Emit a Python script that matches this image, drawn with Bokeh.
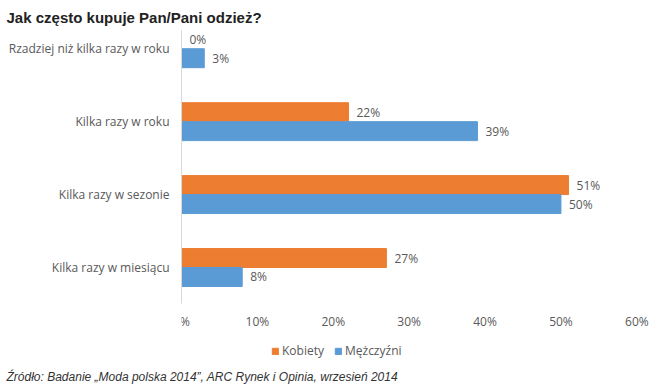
from bokeh.plotting import figure
from bokeh.models import (ColumnDataSource, Range1d, FixedTicker, Legend, LegendItem, Title)
from bokeh.transform import dodge
from bokeh.core.properties import value
from bokeh.embed import file_html
from bokeh.resources import INLINE

# ---- data ----
title_text = "Jak często kupuje Pan/Pani odzież?"
source_text = "Źródło: Badanie „Moda polska 2014”, ARC Rynek i Opinia, wrzesień 2014"
categories = ["Rzadziej niż kilka razy w roku", "Kilka razy w roku",
              "Kilka razy w sezonie", "Kilka razy w miesiącu"]
series_names = ["Kobiety", "Mężczyźni"]
kobiety = [0, 22, 51, 27]
mezczyzni = [3, 39, 50, 8]
x_ticks = [0, 10, 20, 30, 40, 50, 60]
x_tick_labels = ["0%", "10%", "20%", "30%", "40%", "50%", "60%"]
colors = ["#ED7D31", "#5B9BD5"]

pos = list(range(len(categories)))
src = ColumnDataSource(dict(
    pos=pos, k=kobiety, m=mezczyzni,
    kt=[f"{v}%" for v in kobiety], mt=[f"{v}%" for v in mezczyzni]))

FONT = "Open Sans"
GRAY = "#595959"
Y_TOP, Y_AXIS, Y_BOTTOM = -0.25, 3.5, 4.33

p = figure(width=653, height=388,
           x_range=Range1d(0, 61.8), y_range=Range1d(Y_BOTTOM, Y_TOP),
           output_backend="svg", toolbar_location=None,
           min_border_left=181, min_border_right=3,
           min_border_top=30, min_border_bottom=24)

p.title.text = title_text
p.title.align = "left"
p.title.offset = -175
p.title.text_font = "Liberation Sans"
p.title.text_font_style = "bold"
p.title.text_font_size = "15px"
p.title.text_color = "#222222"
p.title.standoff = 10

bh = 0.26
off = 0.13
r1 = p.hbar(y=dodge("pos", -off), left=0, right="k", height=bh, color=colors[0], source=src)
r2 = p.hbar(y=dodge("pos", off), left=0, right="m", height=bh, color=colors[1], source=src)

for col, tcol, o in (("k", "kt", -off), ("m", "mt", off)):
    p.text(x=col, y=dodge("pos", o), text=tcol, x_offset=8,
           text_baseline="middle", text_align="left",
           text_font=value(FONT), text_font_size="12px", text_color=GRAY, source=src)

# axes
p.xaxis.fixed_location = Y_AXIS
p.xaxis.ticker = FixedTicker(ticks=x_ticks)
p.xaxis.major_label_overrides = dict(zip(x_ticks, x_tick_labels))
p.xaxis.axis_line_color = None
p.xaxis.major_tick_line_color = None
p.xaxis.minor_tick_line_color = None
p.xaxis.major_tick_out = 0
p.xaxis.major_label_text_font = FONT
p.xaxis.major_label_text_font_size = "12px"
p.xaxis.major_label_text_color = GRAY
p.xaxis.major_label_standoff = 9

p.yaxis.ticker = FixedTicker(ticks=pos)
p.yaxis.bounds = (Y_TOP, Y_AXIS)
p.yaxis.major_label_overrides = dict(zip(pos, categories))
p.yaxis.axis_line_color = "#d9d9d9"
p.yaxis.major_tick_line_color = None
p.yaxis.minor_tick_line_color = None
p.yaxis.major_tick_out = 0
p.yaxis.major_label_text_font = FONT
p.yaxis.major_label_text_font_size = "12px"
p.yaxis.major_label_text_color = GRAY
p.yaxis.major_label_standoff = 12

p.grid.visible = False
p.outline_line_color = None

legend = Legend(items=[LegendItem(label=series_names[0], renderers=[r1]),
                       LegendItem(label=series_names[1], renderers=[r2])],
                orientation="horizontal", location=(90, 5),
                glyph_width=8, glyph_height=8, label_standoff=3, spacing=10,
                padding=0, margin=0, border_line_color=None,
                background_fill_alpha=0,
                label_text_font=FONT, label_text_font_size="12px",
                label_text_color=GRAY)
p.add_layout(legend)

src_title = Title(text=source_text, align="left", offset=-175,
                  text_font="Liberation Sans", text_font_style="italic",
                  text_font_size="12px", text_color="#333333", standoff=6)
p.add_layout(src_title, "below")

open("out.html", "w").write(file_html(p, INLINE))
